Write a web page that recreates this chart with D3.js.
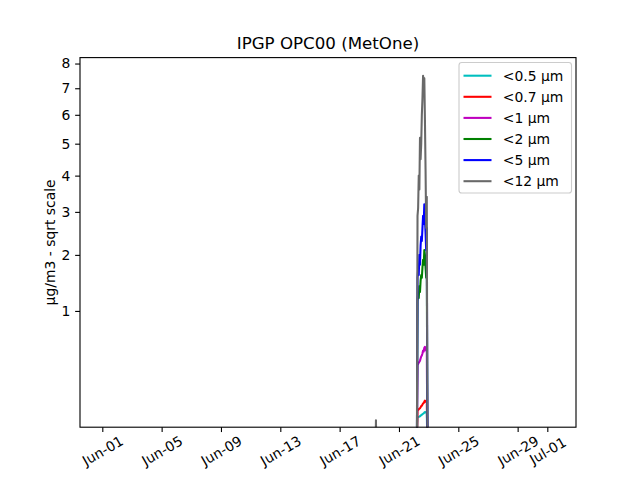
<!DOCTYPE html>
<html>
<head>
<meta charset="utf-8">
<script src="https://cdn.jsdelivr.net/npm/d3@7"></script>
<style>
html,body{margin:0;padding:0;background:#fff;}
svg{display:block;font-family:"DejaVu Sans",sans-serif;}
</style>
</head>
<body>
<svg id="chart" width="640" height="480"></svg>
<script>
// ---- data ----
const seriesLabels = ["<0.5 µm", "<0.7 µm", "<1 µm", "<2 µm", "<5 µm", "<12 µm"];
const seriesColors = ["#00bfbf", "#ff0000", "#bf00bf", "#008000", "#0000ff", "#696969"];

const episodeTimes = [
  "2021-06-22T05:00", "2021-06-22T06:00", "2021-06-22T07:00", "2021-06-22T08:00",
  "2021-06-22T09:00", "2021-06-22T10:00", "2021-06-22T11:00", "2021-06-22T12:00",
  "2021-06-22T13:00", "2021-06-22T14:00", "2021-06-22T15:00", "2021-06-22T16:00",
  "2021-06-22T17:00", "2021-06-22T18:00", "2021-06-22T19:00", "2021-06-22T20:00",
  "2021-06-22T21:00", "2021-06-22T22:00"
];
const pm05 = [0, 0.045, 0.046, 0.047, 0.048, 0.049, 0.051, 0.053, 0.054, 0.056, 0.058, 0.059, 0.062, 0.064, 0.063, 0.061, 0.062, 0];
const pm07 = [0, 0.070, 0.072, 0.074, 0.077, 0.079, 0.083, 0.088, 0.090, 0.095, 0.100, 0.102, 0.108, 0.114, 0.110, 0.106, 0.108, 0];
const pm1  = [0, 0.36, 0.37, 0.38, 0.39, 0.40, 0.42, 0.44, 0.45, 0.47, 0.50, 0.49, 0.53, 0.54, 0.52, 0.50, 0.51, 0];
const pm2  = [0, 1.15, 1.25, 1.20, 1.40, 1.30, 1.50, 1.60, 1.55, 1.75, 1.90, 1.80, 2.10, 2.00, 1.75, 1.55, 1.90, 0];
const pm5  = [0, 1.55, 1.70, 1.60, 2.00, 1.80, 2.20, 2.40, 2.30, 2.60, 2.90, 2.70, 3.20, 2.80, 2.50, 2.10, 2.60, 0];
const pm12 = [0, 2.90, 3.10, 4.00, 3.60, 5.20, 4.50, 5.00, 6.00, 6.60, 7.50, 7.00, 7.40, 5.80, 4.20, 2.60, 3.40, 0];

// short isolated blip seen only in the <12 µm series
const blipTimes = ["2021-06-19T10:15", "2021-06-19T10:45", "2021-06-19T11:15"];
const blipPm12 = [0, 0.037, 0];

const xDomain = ["2021-05-30T11:55", "2021-07-02T22:25"];
const yDomain = [0.0198, 8.25];
const yTicks = [1, 2, 3, 4, 5, 6, 7, 8];
const xTickDates = ["2021-06-01", "2021-06-05", "2021-06-09", "2021-06-13", "2021-06-17",
                    "2021-06-21", "2021-06-25", "2021-06-29", "2021-07-01"];

// ---- layout ----
const m = {left: 80, right: 576, top: 57.6, bottom: 427.2};
const parse = d3.isoParse;
const svg = d3.select("#chart");

const x = d3.scaleTime().domain(xDomain.map(parse)).range([m.left, m.right]);
const y = d3.scaleSqrt().domain(yDomain).range([m.bottom, m.top]);

svg.append("defs").append("clipPath").attr("id", "clip")
  .append("rect").attr("x", m.left).attr("y", m.top)
  .attr("width", m.right - m.left).attr("height", m.bottom - m.top);

const allSeries = [pm05, pm07, pm1, pm2, pm5, pm12].map((vals, i) => {
  let pts = episodeTimes.map((t, j) => ({t: parse(t), v: vals[j]}));
  if (i === 5) {
    const blip = blipTimes.map((t, j) => ({t: parse(t), v: blipPm12[j]}));
    return {pts: blip, extra: pts, color: seriesColors[i], label: seriesLabels[i]};
  }
  return {pts, extra: null, color: seriesColors[i], label: seriesLabels[i]};
});

const line = d3.line().x(d => x(d.t)).y(d => y(Math.max(d.v, 0)));
const gLines = svg.append("g").attr("clip-path", "url(#clip)");
allSeries.forEach(s => {
  [s.pts, s.extra].filter(Boolean).forEach(p => {
    gLines.append("path").datum(p).attr("d", line)
      .attr("fill", "none").attr("stroke", s.color)
      .attr("stroke-width", 2.08).attr("stroke-linejoin", "round");
  });
});

// axes
const fs = 13.9;
const xAxis = d3.axisBottom(x).tickValues(xTickDates.map(parse))
  .tickFormat(d3.timeFormat("%b-%d")).tickSize(4.86).tickPadding(4.86);
const gx = svg.append("g").attr("transform", `translate(0,${m.bottom})`).call(xAxis);
gx.select(".domain").remove();
gx.selectAll(".tick line").attr("stroke", "#000").attr("stroke-width", 1.11);
gx.selectAll(".tick text")
  .attr("font-size", fs).attr("font-family", "DejaVu Sans").attr("fill", "#000")
  .attr("text-anchor", "middle").attr("dominant-baseline", "central")
  .attr("dy", null).attr("y", null)
  .attr("transform", "translate(0,23.5) rotate(-30)");

const yAxis = d3.axisLeft(y).tickValues(yTicks).tickFormat(d3.format("d"))
  .tickSize(4.86).tickPadding(4.86);
const gy = svg.append("g").attr("transform", `translate(${m.left},0)`).call(yAxis);
gy.select(".domain").remove();
gy.selectAll(".tick line").attr("stroke", "#000").attr("stroke-width", 1.11);
gy.selectAll(".tick text").attr("font-size", fs).attr("font-family", "DejaVu Sans").attr("fill", "#000");

// frame
svg.append("rect").attr("x", m.left).attr("y", m.top)
  .attr("width", m.right - m.left).attr("height", m.bottom - m.top)
  .attr("fill", "none").attr("stroke", "#000").attr("stroke-width", 1.11);

// title & labels
svg.append("text").attr("x", (m.left + m.right) / 2).attr("y", 49.3)
  .attr("text-anchor", "middle").attr("font-size", 16.67).attr("fill", "#000")
  .text("IPGP OPC00 (MetOne)");
svg.append("text")
  .attr("transform", `translate(54.5,${(m.top + m.bottom) / 2}) rotate(-90)`)
  .attr("text-anchor", "middle").attr("font-size", fs).attr("fill", "#000")
  .text("µg/m3 - sqrt scale");

// legend
const lg = svg.append("g");
lg.append("rect").attr("x", 459).attr("y", 62.5).attr("width", 112.5).attr("height", 130.5)
  .attr("rx", 2.8).attr("fill", "#fff").attr("fill-opacity", 0.8)
  .attr("stroke", "#cccccc").attr("stroke-width", 1.11);
allSeries.forEach((s, i) => {
  const yy = 75.7 + i * 21.1;
  lg.append("line").attr("x1", 463.5).attr("x2", 491.5).attr("y1", yy).attr("y2", yy)
    .attr("stroke", s.color).attr("stroke-width", 2.08);
  lg.append("text").attr("x", 502.8).attr("y", yy).attr("dy", "0.36em")
    .attr("font-size", fs).attr("fill", "#000").text(s.label);
});
</script>
</body>
</html>
